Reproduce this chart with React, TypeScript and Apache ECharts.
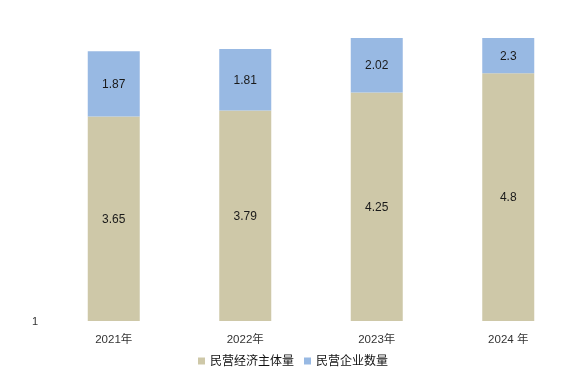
import React, { useEffect, useRef } from "react";
import * as echarts from "echarts";

const categories = ["2021年", "2022年", "2023年", "2024 年"];
const mainBodies = [3.65, 3.79, 4.25, 4.8];
const enterprises = [1.87, 1.81, 2.02, 2.3];
const seriesNames = ["民营经济主体量", "民营企业数量"];

const FONT = '"Liberation Sans", "Noto Sans CJK SC", sans-serif';

export default function App() {
  const ref = useRef<HTMLDivElement>(null);
  useEffect(() => {
    if (!ref.current) return;
    const chart = echarts.init(ref.current, undefined, { renderer: "svg" });
    const label = {
      show: true,
      position: "inside",
      color: "#1a1a1a",
      fontSize: 12,
      fontFamily: FONT,
    };
    chart.setOption({
      animation: false,
      textStyle: { fontFamily: FONT },
      grid: { left: 48, right: 12, top: 38, bottom: 51, containLabel: false },
      legend: {
        bottom: 0,
        left: "center",
        itemWidth: 7,
        itemHeight: 7,
        itemGap: 10,
        icon: "rect",
        textStyle: { fontSize: 12, color: "#111", fontFamily: FONT },
        data: seriesNames,
      },
      xAxis: {
        type: "category",
        data: categories,
        axisLine: { show: false },
        axisTick: { show: false },
        axisLabel: { color: "#333", fontSize: 11.5, margin: 12, fontFamily: FONT },
      },
      yAxis: {
        type: "log",
        logBase: 10,
        min: 1,
        max: 6,
        axisLine: { show: false },
        axisTick: { show: false },
        splitLine: { show: false },
        axisLabel: {
          color: "#333",
          fontSize: 11,
          margin: 10,
          showMaxLabel: false,
          formatter: (v: number) => (Math.abs(v - 1) < 1e-9 ? "1" : ""),
        },
      },
      series: [
        {
          name: seriesNames[0],
          type: "bar",
          stack: "total",
          barWidth: 52,
          data: mainBodies,
          itemStyle: { color: "#CEC8A8" },
          label,
        },
        {
          name: seriesNames[1],
          type: "bar",
          stack: "total",
          barWidth: 52,
          data: enterprises,
          itemStyle: { color: "#98B9E3" },
          label,
        },
      ],
    });
    return () => chart.dispose();
  }, []);
  return (
    <div
      ref={ref}
      style={{ position: "fixed", left: 0, top: 0, width: 586, height: 372 }}
    />
  );
}
